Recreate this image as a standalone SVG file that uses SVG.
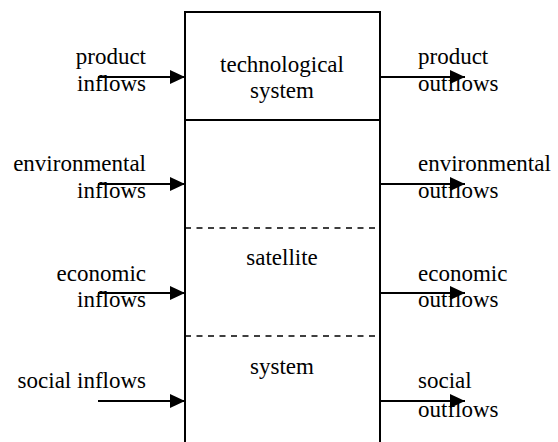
<svg xmlns="http://www.w3.org/2000/svg" width="558" height="442" viewBox="0 0 558 442">
  <defs>
    <marker id="head" markerUnits="userSpaceOnUse" markerWidth="16" markerHeight="16" refX="15" refY="7" orient="auto">
      <path d="M0,0 L15,7 L0,14 Z" fill="#000"/>
    </marker>
  </defs>
  <rect width="558" height="442" fill="#fff"/>

  <!-- central system column, open at the bottom -->
  <g id="system-box" stroke="#000" fill="none">
    <path d="M185,445 V12 H380 V445" stroke-width="2"/>
    <line x1="185" y1="120" x2="380" y2="120" stroke-width="2"/>
    <line x1="185" y1="228" x2="378" y2="228" stroke-width="1.5" stroke-dasharray="6 5.5"/>
    <line x1="185" y1="336" x2="378" y2="336" stroke-width="1.5" stroke-dasharray="6 5.5"/>
  </g>

  <g id="technological-system">
    <text x="282" y="72" font-size="23" style="font-family:'Liberation Serif',serif !important" text-anchor="middle">technological</text>
    <text x="282" y="98" font-size="23" style="font-family:'Liberation Serif',serif !important" text-anchor="middle">system</text>
  </g>
  <g id="satellite-system">
    <text x="282" y="265" font-size="23" style="font-family:'Liberation Serif',serif !important" text-anchor="middle">satellite</text>
    <text x="282" y="374" font-size="23" style="font-family:'Liberation Serif',serif !important" text-anchor="middle">system</text>
  </g>

  <!-- inflow labels -->
  <g id="product-inflows">
    <text x="146" y="64" font-size="23" style="font-family:'Liberation Serif',serif !important" text-anchor="end">product</text>
    <text x="146" y="91" font-size="23" style="font-family:'Liberation Serif',serif !important" text-anchor="end">inflows</text>
  </g>
  <g id="environmental-inflows">
    <text x="146" y="171" font-size="23" style="font-family:'Liberation Serif',serif !important" text-anchor="end">environmental</text>
    <text x="146" y="198" font-size="23" style="font-family:'Liberation Serif',serif !important" text-anchor="end">inflows</text>
  </g>
  <g id="economic-inflows">
    <text x="146" y="281" font-size="23" style="font-family:'Liberation Serif',serif !important" text-anchor="end">economic</text>
    <text x="146" y="307" font-size="23" style="font-family:'Liberation Serif',serif !important" text-anchor="end">inflows</text>
  </g>
  <g id="social-inflows">
    <text x="146" y="388" font-size="23" style="font-family:'Liberation Serif',serif !important" text-anchor="end">social inflows</text>
  </g>

  <!-- outflow labels -->
  <g id="product-outflows">
    <text x="418" y="64" font-size="23" style="font-family:'Liberation Serif',serif !important">product</text>
    <text x="418" y="91" font-size="23" style="font-family:'Liberation Serif',serif !important">outflows</text>
  </g>
  <g id="environmental-outflows">
    <text x="418" y="171" font-size="23" style="font-family:'Liberation Serif',serif !important">environmental</text>
    <text x="418" y="198" font-size="23" style="font-family:'Liberation Serif',serif !important">outflows</text>
  </g>
  <g id="economic-outflows">
    <text x="418" y="281" font-size="23" style="font-family:'Liberation Serif',serif !important">economic</text>
    <text x="418" y="307" font-size="23" style="font-family:'Liberation Serif',serif !important">outflows</text>
  </g>
  <g id="social-outflows">
    <text x="418" y="388" font-size="23" style="font-family:'Liberation Serif',serif !important">social</text>
    <text x="418" y="417" font-size="23" style="font-family:'Liberation Serif',serif !important">outflows</text>
  </g>

  <!-- flow arrows -->
  <g id="connectors" stroke="#000" stroke-width="2" marker-end="url(#head)">
    <line x1="98" y1="77" x2="185" y2="77"/>
    <line x1="98" y1="184" x2="185" y2="184"/>
    <line x1="98" y1="293" x2="185" y2="293"/>
    <line x1="98" y1="401" x2="185" y2="401"/>
    <line x1="380" y1="77" x2="465" y2="77"/>
    <line x1="380" y1="184" x2="465" y2="184"/>
    <line x1="380" y1="293" x2="465" y2="293"/>
    <line x1="380" y1="401" x2="465" y2="401"/>
  </g>
</svg>
